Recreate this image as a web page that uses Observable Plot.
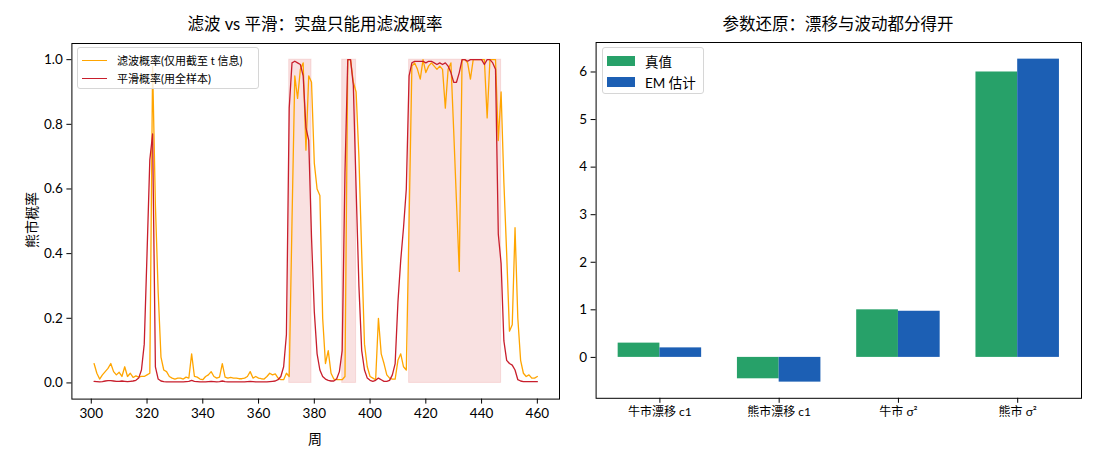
<!DOCTYPE html>
<html>
<head>
<meta charset="utf-8">
<script src="https://cdn.jsdelivr.net/npm/d3@7"></script>
<script src="https://cdn.jsdelivr.net/npm/@observablehq/plot@0.6"></script>
<style>
  html, body { margin: 0; padding: 0; background: #fff; }
  #fig { position: relative; width: 1100px; height: 462px; overflow: hidden;
         font-family: Lato, "Noto Sans CJK SC", sans-serif; color: #000; }
  .panel { position: absolute; top: 0; }
  .title { position: absolute; top: 11px; font-size: 16.5px; white-space: nowrap; transform: translateX(-50%); }
  .xlabel { position: absolute; font-size: 14px; transform: translateX(-50%); }
  .ylabel { position: absolute; font-size: 14px; transform: translate(-50%, -50%) rotate(-90deg); white-space: nowrap; }
  .legend { position: absolute; background: rgba(255,255,255,0.8); border: 1px solid #d6d6d6; border-radius: 3px; box-sizing: border-box; }
  .legrow { position: absolute; display: flex; align-items: center; white-space: nowrap; }
</style>
</head>
<body>
<div id="fig"></div>
<script>
// ---------------- data ----------------
const firstWeek = 301;
const filteredProb = [
  0.06, 0.03, 0.012, 0.025, 0.035, 0.045, 0.06, 0.035, 0.025, 0.033,
  0.02, 0.05, 0.02, 0.03, 0.017, 0.022, 0.018, 0.02, 0.02, 0.025,
  0.03, 0.98, 0.55, 0.28, 0.08, 0.04, 0.035, 0.02, 0.015, 0.012,
  0.015, 0.015, 0.012, 0.018, 0.015, 0.09, 0.02, 0.018, 0.012, 0.01,
  0.02, 0.025, 0.035, 0.02, 0.015, 0.018, 0.06, 0.018, 0.015, 0.017,
  0.015, 0.015, 0.013, 0.013, 0.015, 0.02, 0.035, 0.015, 0.02, 0.015,
  0.013, 0.012, 0.02, 0.03, 0.025, 0.028, 0.015, 0.01, 0.01, 0.03,
  0.02, 0.5, 0.95, 0.88, 0.97, 0.99, 0.72, 0.95, 0.93, 0.68,
  0.6, 0.58, 0.2, 0.06, 0.1, 0.03, 0.012, 0.01, 0.01, 0.01,
  0.02, 1.0, 1.0, 0.93, 0.9, 0.7, 0.4, 0.12, 0.05, 0.02,
  0.015, 0.01, 0.2, 0.09, 0.06, 0.025, 0.015, 0.012, 0.012, 0.07,
  0.09, 0.05, 0.04, 0.5, 0.98, 0.99, 0.97, 0.94, 1.0, 0.96,
  0.98, 0.99, 0.98, 0.97, 0.98, 0.97, 0.85, 0.97, 0.99, 0.78,
  0.56, 0.345, 1.0, 1.0, 0.99, 0.94, 1.0, 1.0, 1.0, 1.0,
  1.0, 0.82, 1.0, 1.0, 1.0, 0.75, 0.9, 0.62, 0.4, 0.16,
  0.18, 0.48, 0.2, 0.07, 0.03, 0.02, 0.025, 0.015, 0.015, 0.02
];
const smoothedProb = [
  0.005, 0.004, 0.003, 0.004, 0.006, 0.007, 0.007, 0.006, 0.005, 0.005,
  0.006, 0.005, 0.004, 0.005, 0.006, 0.008, 0.015, 0.04, 0.12, 0.4,
  0.69, 0.77, 0.05, 0.012, 0.006, 0.004, 0.003, 0.003, 0.003, 0.003,
  0.003, 0.003, 0.003, 0.004, 0.005, 0.008, 0.005, 0.004, 0.003, 0.003,
  0.003, 0.004, 0.005, 0.004, 0.003, 0.004, 0.006, 0.004, 0.003, 0.003,
  0.003, 0.003, 0.003, 0.003, 0.003, 0.004, 0.005, 0.004, 0.003, 0.003,
  0.003, 0.003, 0.003, 0.004, 0.005, 0.006, 0.01, 0.02, 0.05, 0.15,
  0.85, 0.99, 0.995, 0.99, 0.985, 0.95, 0.79, 0.75, 0.45, 0.22,
  0.09, 0.04, 0.02, 0.012, 0.008, 0.006, 0.006, 0.012, 0.035, 0.1,
  0.65, 1.0, 1.0, 0.92, 0.6, 0.3, 0.1, 0.04, 0.015, 0.008,
  0.005, 0.008, 0.015, 0.01, 0.005, 0.005, 0.008, 0.025, 0.06, 0.25,
  0.38, 0.48, 0.6, 0.95, 0.99, 0.995, 0.995, 0.995, 0.995, 0.99,
  0.995, 0.995, 0.99, 0.985, 0.99, 0.985, 0.99, 0.98, 0.96, 0.93,
  0.93, 0.96, 1.0, 1.0, 0.995, 1.0, 1.0, 1.0, 1.0, 1.0,
  0.985, 1.0, 1.0, 0.99, 0.97, 0.46, 0.37, 0.13, 0.07, 0.06,
  0.055, 0.04, 0.01, 0.006, 0.004, 0.004, 0.004, 0.004, 0.004, 0.004
];
const bearStart = [371, 390, 414];
const bearEnd   = [379, 395, 447];
const weekTicks = [300, 320, 340, 360, 380, 400, 420, 440, 460];
const probTicks = [0, 0.2, 0.4, 0.6, 0.8, 1.0];

const paramNames = ["牛市漂移 c1", "熊市漂移 c1", "牛市 σ²", "熊市 σ²"];
const trueValues = [0.3, -0.45, 1.0, 6.0];
const emValues   = [0.2, -0.52, 0.97, 6.27];
const paramTicks = [0, 1, 2, 3, 4, 5, 6];

// ---------------- styles ----------------
const ORANGE = "#ffa500", RED = "#c81e2c", SPAN = "#d62728";
const GREEN = "#27a169", BLUE = "#1c5fb4";
const FONT = 'Lato, "Noto Sans CJK SC", sans-serif';

const fig = document.getElementById("fig");
function addDiv(cls, html, style) {
  const d = document.createElement("div");
  d.className = cls; d.innerHTML = html;
  Object.assign(d.style, style);
  fig.appendChild(d);
  return d;
}

// ---------------- left panel ----------------
const series = filteredProb.map((p, i) => ({week: firstWeek + i, filtered: p, smoothed: smoothedProb[i]}));
const spans = bearStart.map((s, i) => ({start: s, end: bearEnd[i]}));
const leftW = 575;
const left = Plot.plot({
  width: leftW, height: 462,
  marginLeft: 71.4, marginRight: leftW - 559, marginTop: 43, marginBottom: 63.4,
  style: {fontFamily: FONT, fontSize: "13.5px", color: "#000", background: "transparent", overflow: "visible"},
  x: {domain: [293.05, 467.95], ticks: weekTicks, tickFormat: d => String(d), tickSize: 5, tickPadding: 4, label: null},
  y: {domain: [-0.05, 1.05], ticks: probTicks, tickFormat: d3.format(".1f"), tickSize: 5, tickPadding: 4, label: null},
  marks: [
    Plot.rect(spans, {x1: "start", x2: "end", y1: 0, y2: 1, fill: SPAN, fillOpacity: 0.14, stroke: SPAN, strokeOpacity: 0.12, strokeWidth: 1}),
    Plot.line(series, {x: "week", y: "filtered", stroke: ORANGE, strokeWidth: 1.3}),
    Plot.line(series, {x: "week", y: "smoothed", stroke: RED, strokeWidth: 1.3}),
    Plot.frame({stroke: "#000", strokeWidth: 1})
  ]
});
left.classList.add("panel");
left.style.left = "0px";
fig.appendChild(left);

// ---------------- right panel ----------------
const bars = [];
paramNames.forEach((name, i) => {
  bars.push({idx: i, lo: i - 0.35, hi: i, value: trueValues[i], kind: "真值"});
  bars.push({idx: i, lo: i, hi: i + 0.35, value: emValues[i], kind: "EM 估计"});
});
const rightX = 575, rightW = 525;
const right = Plot.plot({
  width: rightW, height: 462,
  marginLeft: 595.6 - rightX, marginRight: rightX + rightW - 1081, marginTop: 42, marginBottom: 462 - 397.8,
  style: {fontFamily: FONT, fontSize: "13.5px", color: "#000", background: "transparent", overflow: "visible"},
  x: {type: "linear", domain: [-0.535, 3.535], ticks: [0, 1, 2, 3], tickFormat: i => paramNames[i], tickSize: 5, tickPadding: 4, label: null},
  y: {domain: [-0.86, 6.62], ticks: paramTicks, tickFormat: d => String(d), tickSize: 5, tickPadding: 4, label: null},
  color: {domain: ["真值", "EM 估计"], range: [GREEN, BLUE]},
  marks: [
    Plot.rect(bars, {x1: "lo", x2: "hi", y1: 0, y2: "value", fill: "kind"}),
    Plot.frame({stroke: "#000", strokeWidth: 1})
  ]
});
right.classList.add("panel");
right.style.left = rightX + "px";
fig.appendChild(right);
// smaller category labels on the bar chart
right.querySelectorAll("g[aria-label='x-axis tick label'] text, g[aria-label='x-axis tick label']").forEach(el => el.style.fontSize = "12px");

// ---------------- titles, labels ----------------
addDiv("title", "滤波 vs 平滑：实盘只能用滤波概率", {left: "315px"});
addDiv("title", "参数还原：漂移与波动都分得开", {left: "838px"});
addDiv("xlabel", "周", {left: "315px", top: "428px"});
addDiv("ylabel", "熊市概率", {left: "31px", top: "220px"});

// ---------------- legends ----------------
const lg1 = addDiv("legend", "", {left: "77px", top: "47px", width: "182px", height: "42px"});
function lineRow(parent, top, color, text, fs) {
  const r = document.createElement("div");
  r.className = "legrow";
  r.style.left = "4px"; r.style.top = top + "px"; r.style.fontSize = fs + "px";
  r.innerHTML = `<span style="display:inline-block;width:25px;height:0;border-top:1.4px solid ${color};margin-right:10px"></span><span>${text}</span>`;
  parent.appendChild(r);
}
lineRow(lg1, 4, ORANGE, "滤波概率(仅用截至 t 信息)", 11);
lineRow(lg1, 22, RED, "平滑概率(用全样本)", 11);

const lg2 = addDiv("legend", "", {left: "602px", top: "47px", width: "102px", height: "47px"});
function patchRow(parent, top, color, text) {
  const r = document.createElement("div");
  r.className = "legrow";
  r.style.left = "4px"; r.style.top = top + "px"; r.style.fontSize = "13.5px";
  r.innerHTML = `<span style="display:inline-block;width:28px;height:10px;background:${color};margin-right:10px"></span><span>${text}</span>`;
  parent.appendChild(r);
}
patchRow(lg2, 3, GREEN, "真值");
patchRow(lg2, 24, BLUE, "EM 估计");
</script>
</body>
</html>
